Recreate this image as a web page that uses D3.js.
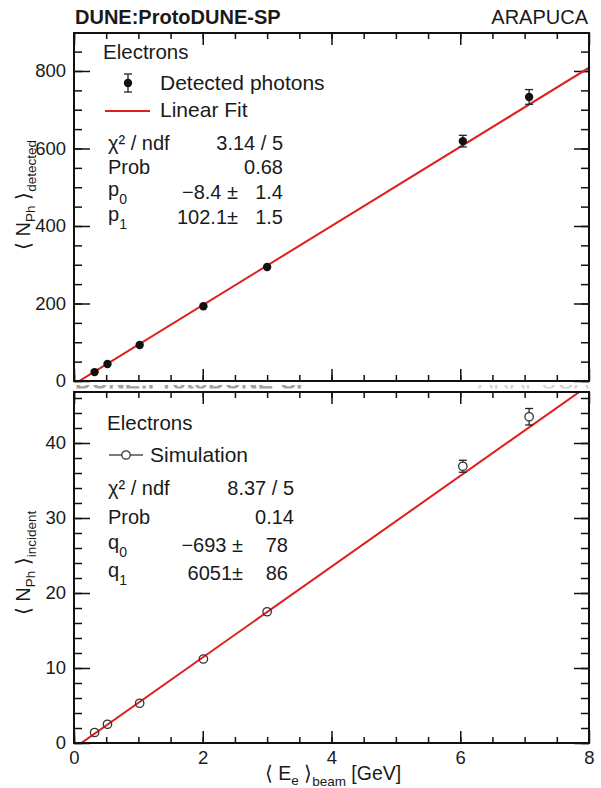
<!DOCTYPE html>
<html>
<head>
<meta charset="utf-8">
<script src="https://cdn.jsdelivr.net/npm/d3@7"></script>
<style>
  body { margin: 0; background: #fff; }
  text { font-family: "Liberation Sans", Arial, Helvetica, sans-serif; fill: #1a1a1a; }
</style>
</head>
<body>
<div id="chart"></div>
<script>
// mean beam energy of each run (GeV)
const energy = [0.32, 0.52, 1.02, 2.01, 3.0, 6.04, 7.07];

// top pad: detected photons (data)
const detected = [23, 44, 93, 193, 294, 619, 733];
const detectedErr = [2, 2, 3, 4, 5, 15, 19];
const detectedFit = [-8.4, 102.1];

// bottom pad: incident photons (simulation), axis is in 10^3
const incident = [1.4, 2.5, 5.3, 11.2, 17.5, 36.9, 43.5];
const incidentErr = [0.1, 0.1, 0.2, 0.3, 0.4, 0.8, 1.1];
const incidentFit = [-693, 6051];

const xTicks = [0, 2, 4, 6, 8];
const topYTicks = [0, 200, 400, 600, 800];
const bottomYTicks = [0, 10, 20, 30, 40];

// stats box rows: name, subscript, value, error
const topStats = [
  ['χ² / ndf', '', '', '3.14 / 5'],
  ['Prob', '', '', '0.68'],
  ['p', '0', '−8.4 ±', '1.4'],
  ['p', '1', '102.1±', '1.5']
];
const bottomStats = [
  ['χ² / ndf', '', '', '8.37 / 5'],
  ['Prob', '', '', '0.14'],
  ['q', '0', '−693 ±', '78'],
  ['q', '1', '6051±', '86']
];

const W = 601, H = 788;
const red = '#e01e1e';

const svg = d3.select('#chart').append('svg')
  .attr('width', W)
  .attr('height', H);
svg.append('rect').attr('width', W).attr('height', H).attr('fill', '#fff');

const x = d3.scaleLinear().domain([0, 8]).range([74, 589]);

function drawPanel(cfg) {
  const g = svg.append('g');
  const y = d3.scaleLinear().domain(cfg.yDomain).range([cfg.bottom, cfg.top]);

  const clipId = 'clip-' + cfg.name;
  svg.append('clipPath').attr('id', clipId)
    .append('rect')
    .attr('x', x(0)).attr('y', cfg.top)
    .attr('width', x(8) - x(0)).attr('height', cfg.bottom - cfg.top);

  // ticks, ROOT style: inside the frame, on all four sides
  const yMinor = d3.range(cfg.yDomain[0], cfg.yDomain[1], cfg.yMinorStep);
  const xMinor = d3.range(0, 8, 0.5);
  const tidy = (sel) => {
    sel.select('.domain').remove();
    sel.selectAll('line').attr('stroke', '#111').attr('stroke-width', 1.5);
    sel.attr('font-size', 18.5);
  };

  g.append('g').attr('transform', `translate(${x(0)},0)`)
    .call(d3.axisLeft(y).tickValues(cfg.yTicks).tickSize(-16).tickPadding(8))
    .call(tidy);
  g.append('g').attr('transform', `translate(${x(0)},0)`)
    .call(d3.axisLeft(y).tickValues(yMinor).tickSize(-8).tickFormat(''))
    .call(tidy);
  g.append('g').attr('transform', `translate(${x(8)},0)`)
    .call(d3.axisRight(y).tickValues(cfg.yTicks).tickSize(-15).tickFormat(''))
    .call(tidy);
  g.append('g').attr('transform', `translate(${x(8)},0)`)
    .call(d3.axisRight(y).tickValues(yMinor).tickSize(-8).tickFormat(''))
    .call(tidy);

  const bottomAxis = d3.axisBottom(x).tickValues(xTicks).tickSize(-12).tickPadding(8);
  if (!cfg.xLabels) bottomAxis.tickFormat('');
  g.append('g').attr('transform', `translate(0,${cfg.bottom})`)
    .call(bottomAxis)
    .call(tidy);
  g.append('g').attr('transform', `translate(0,${cfg.bottom})`)
    .call(d3.axisBottom(x).tickValues(xMinor).tickSize(-6).tickFormat(''))
    .call(tidy);
  g.append('g').attr('transform', `translate(0,${cfg.top})`)
    .call(d3.axisTop(x).tickValues(xTicks).tickSize(-12).tickFormat(''))
    .call(tidy);
  g.append('g').attr('transform', `translate(0,${cfg.top})`)
    .call(d3.axisTop(x).tickValues(xMinor).tickSize(-6).tickFormat(''))
    .call(tidy);

  // linear fit
  const fit = (e) => (cfg.fit[0] + cfg.fit[1] * e) / cfg.fitScale;
  g.append('line')
    .attr('clip-path', `url(#${clipId})`)
    .attr('x1', x(0)).attr('y1', y(fit(0)))
    .attr('x2', x(8)).attr('y2', y(fit(8)))
    .attr('stroke', red).attr('stroke-width', 2);

  // points with error bars
  const r = 4.2;
  const pts = g.append('g');
  energy.forEach((e, i) => {
    const cx = x(e), cy = y(cfg.values[i]);
    const hi = y(cfg.values[i] + cfg.errors[i]);
    const lo = y(cfg.values[i] - cfg.errors[i]);
    if (cy - hi > r + 1) {
      const segs = cfg.open ? [[hi, cy - r], [cy + r, lo]] : [[hi, lo]];
      segs.forEach(([a, b]) => {
        pts.append('line').attr('x1', cx).attr('x2', cx).attr('y1', a).attr('y2', b)
          .attr('stroke', '#222').attr('stroke-width', 1.3);
      });
      [hi, lo].forEach((yy) => {
        pts.append('line').attr('x1', cx - 4).attr('x2', cx + 4).attr('y1', yy).attr('y2', yy)
          .attr('stroke', '#222').attr('stroke-width', 1.3);
      });
    }
    pts.append('circle').attr('cx', cx).attr('cy', cy).attr('r', r)
      .attr('fill', cfg.open ? 'none' : '#111')
      .attr('stroke', cfg.open ? '#333' : 'none')
      .attr('stroke-width', 1.3);
  });

  // frame
  g.append('rect')
    .attr('x', x(0)).attr('y', cfg.top)
    .attr('width', x(8) - x(0)).attr('height', cfg.bottom - cfg.top)
    .attr('fill', 'none').attr('stroke', '#111').attr('stroke-width', 2);

  // "Electrons" label
  g.append('text').attr('x', cfg.textX).attr('y', cfg.electronsY)
    .attr('font-size', 20.5).text('Electrons');

  // stats box
  cfg.stats.forEach((row, i) => {
    const yy = cfg.statsY[i];
    const t = g.append('text').attr('x', cfg.statsX).attr('y', row[1] ? yy - 3 : yy)
      .attr('font-size', 20).text(row[0]);
    if (row[1]) {
      t.append('tspan').attr('dy', 8).attr('font-size', 14).text(row[1]);
    }
    if (row[2]) {
      g.append('text').attr('x', cfg.midX).attr('y', yy).attr('text-anchor', 'end')
        .attr('font-size', 20).text(row[2]);
    }
    g.append('text').attr('x', row[1] ? cfg.parX : cfg.valX).attr('y', yy)
      .attr('text-anchor', 'end').attr('font-size', 20).text(row[3]);
  });

  // y title
  const yt = g.append('text')
    .attr('transform', `translate(${cfg.titleX},${cfg.titleY}) rotate(-90)`)
    .attr('text-anchor', 'middle').attr('font-size', 20);
  yt.append('tspan').text('⟨ N');
  yt.append('tspan').attr('dy', 5).attr('font-size', 13.5).text('Ph');
  yt.append('tspan').attr('dy', -5).text(' ⟩');
  yt.append('tspan').attr('dy', 6).attr('font-size', 13.5).text(cfg.sub);

  return { g, y };
}

// ghost of the lower pad's header, mostly hidden by the upper pad
svg.append('clipPath').attr('id', 'ghost-clip')
  .append('rect').attr('x', 60).attr('y', 385).attr('width', 540).attr('height', 3.5);
const ghost = svg.append('g').attr('clip-path', 'url(#ghost-clip)');
ghost.append('text').attr('x', 75).attr('y', 389).attr('font-size', 23)
  .attr('font-weight', 'bold').style('fill', '#a0a0a0').text('DUNE:ProtoDUNE-SP');
ghost.append('text').attr('x', 589).attr('y', 389).attr('font-size', 23)
  .attr('text-anchor', 'end').style('fill', '#d0d0d0').text('ARAPUCA');

const topPanel = drawPanel({
  name: 'top', top: 33, bottom: 381, yDomain: [0, 898],
  yTicks: topYTicks, yMinorStep: 50, xLabels: false,
  values: detected, errors: detectedErr, fit: detectedFit, fitScale: 1, open: false,
  textX: 103, electronsY: 59,
  stats: topStats, statsX: 108, midX: 238, valX: 283, parX: 283,
  statsY: [150, 174, 199, 224],
  titleX: 30, titleY: 195, sub: 'detected'
});

const bottomPanel = drawPanel({
  name: 'bottom', top: 392, bottom: 743, yDomain: [0, 46.8],
  yTicks: bottomYTicks, yMinorStep: 2, xLabels: true,
  values: incident, errors: incidentErr, fit: incidentFit, fitScale: 1000, open: true,
  textX: 107, electronsY: 430,
  stats: bottomStats, statsX: 108, midX: 243, valX: 294, parX: 288,
  statsY: [495, 524, 552, 580],
  titleX: 30, titleY: 563, sub: 'incident'
});

// legends
const lg = svg.append('g');
lg.append('line').attr('x1', 128).attr('x2', 128).attr('y1', 74).attr('y2', 92)
  .attr('stroke', '#222').attr('stroke-width', 1.3);
[74, 92].forEach((yy) => {
  lg.append('line').attr('x1', 124).attr('x2', 132).attr('y1', yy).attr('y2', yy)
    .attr('stroke', '#222').attr('stroke-width', 1.3);
});
lg.append('circle').attr('cx', 128).attr('cy', 83).attr('r', 4.2).attr('fill', '#111');
lg.append('text').attr('x', 160).attr('y', 90).attr('font-size', 21).text('Detected photons');
lg.append('line').attr('x1', 105).attr('x2', 150).attr('y1', 111).attr('y2', 111)
  .attr('stroke', red).attr('stroke-width', 2);
lg.append('text').attr('x', 160).attr('y', 117).attr('font-size', 21).text('Linear Fit');

lg.append('line').attr('x1', 109).attr('x2', 121.8).attr('y1', 455).attr('y2', 455)
  .attr('stroke', '#333').attr('stroke-width', 1.3);
lg.append('line').attr('x1', 130.2).attr('x2', 143).attr('y1', 455).attr('y2', 455)
  .attr('stroke', '#333').attr('stroke-width', 1.3);
lg.append('circle').attr('cx', 126).attr('cy', 455).attr('r', 4.2)
  .attr('fill', 'none').attr('stroke', '#333').attr('stroke-width', 1.3);
lg.append('text').attr('x', 150).attr('y', 462).attr('font-size', 21).text('Simulation');

// header
svg.append('text').attr('x', 75).attr('y', 24).attr('font-size', 20)
  .attr('font-weight', 'bold').text('DUNE:ProtoDUNE-SP');
svg.append('text').attr('x', 588).attr('y', 24).attr('font-size', 20)
  .attr('text-anchor', 'end').text('ARAPUCA');

// x title
const xt = svg.append('text').attr('x', 333).attr('y', 780)
  .attr('text-anchor', 'middle').attr('font-size', 19.5);
xt.append('tspan').text('⟨ E');
xt.append('tspan').attr('dy', 5).attr('font-size', 13.5).text('e');
xt.append('tspan').attr('dy', -5).text(' ⟩');
xt.append('tspan').attr('dy', 6).attr('font-size', 13.5).text('beam');
xt.append('tspan').attr('dy', -6).text(' [GeV]');
</script>
</body>
</html>
